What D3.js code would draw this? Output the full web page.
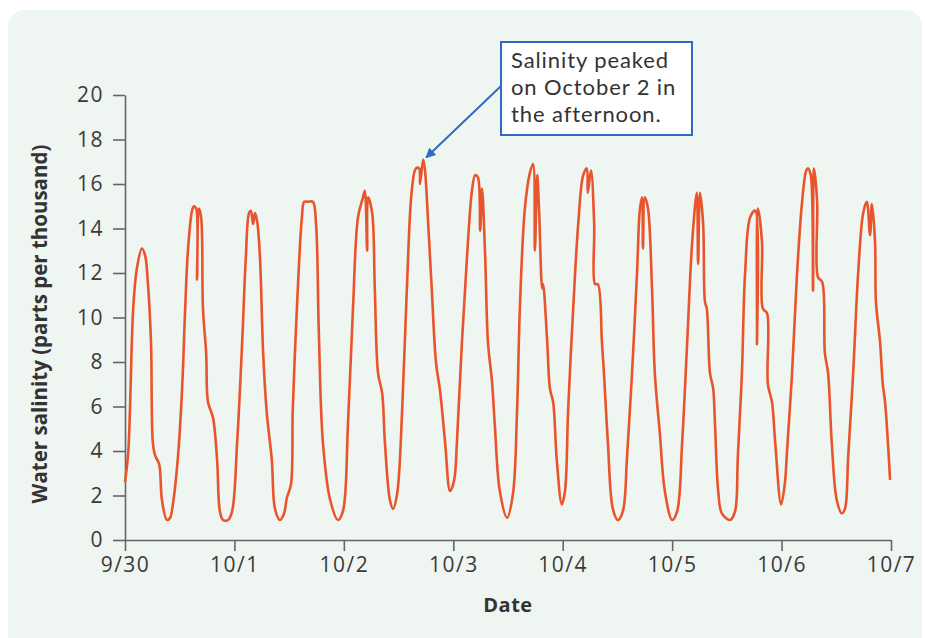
<!DOCTYPE html>
<html>
<head>
<meta charset="utf-8">
<script src="https://cdn.jsdelivr.net/npm/d3@7"></script>
<style>
  body { margin: 0; background: #fff; }
  svg { display: block; font-family: "Open Sans", sans-serif; }
</style>
</head>
<body>
<div id="chart"></div>
<script>
// hours since 9/30 00:00
const hours = [
  0.0, 0.7, 1.8, 2.6, 3.7, 4.4, 5.0, 5.7, 6.1, 6.6, 7.5, 8.1, 9.2, 9.9, 10.5, 11.6,
  12.5, 13.2, 13.8, 14.7, 15.1, 15.6, 15.8, 16.2, 16.7, 17.1, 17.8, 18.2, 19.3, 20.2, 20.8, 21.5,
  22.6, 23.5, 24.6, 25.7, 26.5, 27.2, 27.6, 28.1, 28.5, 29.0, 29.6, 30.3, 31.1, 32.2, 32.9, 34.0,
  34.9, 35.5, 36.4, 36.8, 37.7, 38.8, 39.3, 40.1, 41.2, 41.9, 42.5, 43.4, 45.0, 46.7, 47.8, 48.9,
  50.0, 51.1, 52.2, 52.6, 53.1, 53.3, 54.2, 54.8, 55.5, 56.4, 57.0, 58.1, 58.8, 59.7, 60.8, 61.8,
  62.9, 63.8, 64.5, 64.7, 65.4, 65.8, 66.5, 67.3, 68.2, 69.1, 70.2, 71.3, 72.2, 72.8, 73.9, 75.0,
  76.1, 76.8, 77.4, 77.9, 78.3, 79.0, 79.6, 80.5, 81.1, 82.2, 83.8, 85.1, 86.0, 86.6, 87.7, 88.8,
  89.5, 89.9, 90.4, 90.8, 91.5, 91.7, 92.6, 93.2, 93.9, 94.7, 95.8, 96.5, 97.2, 98.3, 99.4, 100.5,
  101.3, 101.5, 102.2, 102.9, 103.1, 103.7, 104.6, 105.1, 105.9, 107.0, 108.1, 109.2, 110.1, 111.2, 112.3, 112.9,
  113.4, 113.6, 114.0, 114.7, 115.6, 116.2, 117.3, 118.4, 120.0, 121.1, 122.2, 123.3, 124.4, 125.4, 125.7, 126.1,
  126.8, 127.2, 127.6, 128.3, 129.0, 129.4, 130.1, 130.9, 132.7, 133.8, 134.4, 135.3, 136.0, 137.1, 138.2, 138.6,
  138.8, 139.7, 139.9, 140.8, 141.0, 141.9, 142.6, 143.9, 144.7, 145.2, 146.3, 147.4, 148.5, 149.4, 149.8, 150.4,
  150.9, 151.1, 151.8, 152.0, 152.9, 153.5, 154.2, 155.0, 156.1, 157.2, 157.9, 158.6, 159.7, 160.8, 161.9, 162.7,
  163.4, 163.8, 164.5, 164.7, 165.6, 166.2, 166.7, 167.8
];
// salinity, parts per thousand
const salinity = [
  2.6, 3.9, 10.4, 12.2, 13.1, 12.8, 11.6, 8.9, 4.4, 3.8, 3.4, 1.8, 0.9, 1.0, 1.6, 3.7,
  6.7, 10.4, 13.0, 14.8, 15.0, 14.9, 11.7, 14.9, 14.5, 10.4, 8.4, 6.2, 5.5, 3.6, 1.3, 0.9,
  0.9, 1.3, 4.4, 8.9, 12.7, 14.7, 14.8, 14.2, 14.7, 14.3, 12.7, 8.4, 5.7, 3.6, 1.4, 0.9,
  1.2, 1.9, 2.5, 5.9, 10.4, 14.5, 15.2, 15.2, 15.2, 14.2, 9.4, 4.4, 1.8, 0.9, 1.3, 5.2,
  10.4, 14.5, 15.4, 15.7, 13.0, 15.4, 14.7, 11.2, 7.5, 6.6, 4.4, 1.8, 1.4, 2.1, 5.9, 11.2,
  15.7, 16.7, 16.7, 16.0, 17.1, 16.6, 14.2, 11.2, 8.0, 6.7, 4.4, 2.2, 2.7, 4.4, 8.9, 12.7,
  15.7, 16.4, 16.3, 13.9, 15.8, 12.7, 8.9, 7.1, 5.2, 2.2, 1.0, 2.1, 5.9, 10.4, 14.9, 16.5,
  16.9, 13.0, 16.4, 14.9, 11.3, 11.5, 8.9, 6.8, 6.2, 3.6, 1.6, 2.2, 5.9, 10.4, 14.2, 16.4,
  16.7, 15.6, 16.6, 14.2, 11.5, 11.5, 8.9, 7.3, 4.4, 1.4, 0.9, 1.3, 3.7, 7.5, 12.0, 14.8,
  15.4, 13.1, 15.4, 14.9, 11.2, 7.5, 4.8, 2.2, 0.9, 1.3, 4.4, 8.9, 13.4, 15.6, 12.4, 15.6,
  14.2, 10.7, 10.4, 7.5, 6.8, 5.2, 2.2, 1.2, 0.9, 1.3, 3.7, 7.5, 12.0, 14.5, 14.8, 8.8,
  14.9, 13.4, 10.4, 10.2, 7.0, 6.2, 4.4, 1.6, 2.5, 4.0, 7.5, 12.0, 15.2, 16.6, 16.7, 16.4,
  11.2, 16.7, 15.2, 11.8, 11.6, 8.4, 7.5, 4.4, 1.8, 1.2, 1.4, 3.7, 7.5, 12.0, 14.7, 15.2,
  13.7, 15.1, 13.4, 10.7, 8.9, 7.0, 6.2, 2.7
];
const dayLabels = ["9/30", "10/1", "10/2", "10/3", "10/4", "10/5", "10/6", "10/7"];
const yTicks = [0, 2, 4, 6, 8, 10, 12, 14, 16, 18, 20];
const noteLines = ["Salinity peaked", "on October 2 in", "the afternoon."];

const width = 925,
    height = 638,
    margin = { top: 95, right: 34, bottom: 98, left: 125 };

const start = new Date(2019, 8, 30);
const dates = dayLabels.map((d, i) => d3.timeDay.offset(start, i));
const data = hours.map((h, i) => ({ t: d3.timeMinute.offset(start, Math.round(h * 60)), v: salinity[i] }));

const svg = d3.select("#chart")
    .append("svg")
    .attr("width", width)
    .attr("height", height);

// background panel
svg.append("rect")
    .attr("x", 8).attr("y", 10)
    .attr("width", 914).attr("height", 650)
    .attr("rx", 16)
    .attr("fill", "#eff5f1");

const x = d3.scaleTime()
    .domain([dates[0], dates[dates.length - 1]])
    .range([margin.left, width - margin.right]);

const y = d3.scaleLinear()
    .domain([0, 20])
    .range([height - margin.bottom, margin.top]);

// axes
const xAxis = svg.append("g")
    .attr("transform", `translate(0, ${height - margin.bottom})`)
    .call(d3.axisBottom(x)
        .tickValues(dates)
        .tickFormat((d, i) => dayLabels[i])
        .tickSize(11)
        .tickSizeOuter(0)
        .tickPadding(6));

const yAxis = svg.append("g")
    .attr("transform", `translate(${margin.left}, 0)`)
    .call(d3.axisLeft(y)
        .tickValues(yTicks)
        .tickSize(12)
        .tickSizeOuter(0)
        .tickPadding(9));

[xAxis, yAxis].forEach(g => {
    g.select(".domain").attr("stroke", "#666").attr("stroke-width", 1.6);
    g.selectAll(".tick line").attr("stroke", "#666").attr("stroke-width", 1.6);
    g.selectAll(".tick text")
        .attr("fill", "#3a3a3a")
        .style("font-size", "21px")
        .style("letter-spacing", "1.5px")
        .style("font-family", "'Open Sans', sans-serif");
});

// salinity line
svg.append("path")
    .datum(data)
    .attr("fill", "none")
    .attr("stroke", "#e8552c")
    .attr("stroke-width", 2.6)
    .attr("stroke-linejoin", "round")
    .attr("d", d3.line()
        .x(d => x(d.t))
        .y(d => y(d.v))
        .curve(d3.curveCatmullRom.alpha(0.5)));

// axis titles
svg.append("text")
    .attr("x", 508).attr("y", 612)
    .attr("text-anchor", "middle")
    .attr("fill", "#333")
    .style("font-size", "20px")
    .style("letter-spacing", "0.5px")
    .style("font-weight", "bold")
    .text("Date");

svg.append("text")
    .attr("transform", "translate(47, 324) rotate(-90)")
    .attr("text-anchor", "middle")
    .attr("fill", "#333")
    .style("font-size", "20.5px")
    .style("font-weight", "bold")
    .text("Water salinity (parts per thousand)");

// annotation
const peak = data.reduce((a, b) => (b.v > a.v ? b : a));

svg.append("defs").append("marker")
    .attr("id", "arrow")
    .attr("viewBox", "0 0 10 10")
    .attr("refX", 9).attr("refY", 5)
    .attr("markerWidth", 5).attr("markerHeight", 5)
    .attr("orient", "auto")
    .append("path")
    .attr("d", "M0,0L10,5L0,10Z")
    .attr("fill", "#2f6cc0");

svg.append("line")
    .attr("x1", 501).attr("y1", 86)
    .attr("x2", x(peak.t) + 3).attr("y2", y(peak.v) - 2)
    .attr("stroke", "#2f6cc0")
    .attr("stroke-width", 2)
    .attr("marker-end", "url(#arrow)");

svg.append("rect")
    .attr("x", 501).attr("y", 42)
    .attr("width", 191).attr("height", 93)
    .attr("fill", "#fff")
    .attr("stroke", "#2f6cc0")
    .attr("stroke-width", 2);

svg.selectAll(".note")
    .data(noteLines)
    .join("text")
    .attr("class", "note")
    .attr("x", 511)
    .attr("y", (d, i) => 68 + i * 27)
    .attr("fill", "#333")
    .style("font-family", "Lato, sans-serif")
    .style("font-size", "22px")
    .style("letter-spacing", "0.9px")
    .text(d => d);
</script>
</body>
</html>
